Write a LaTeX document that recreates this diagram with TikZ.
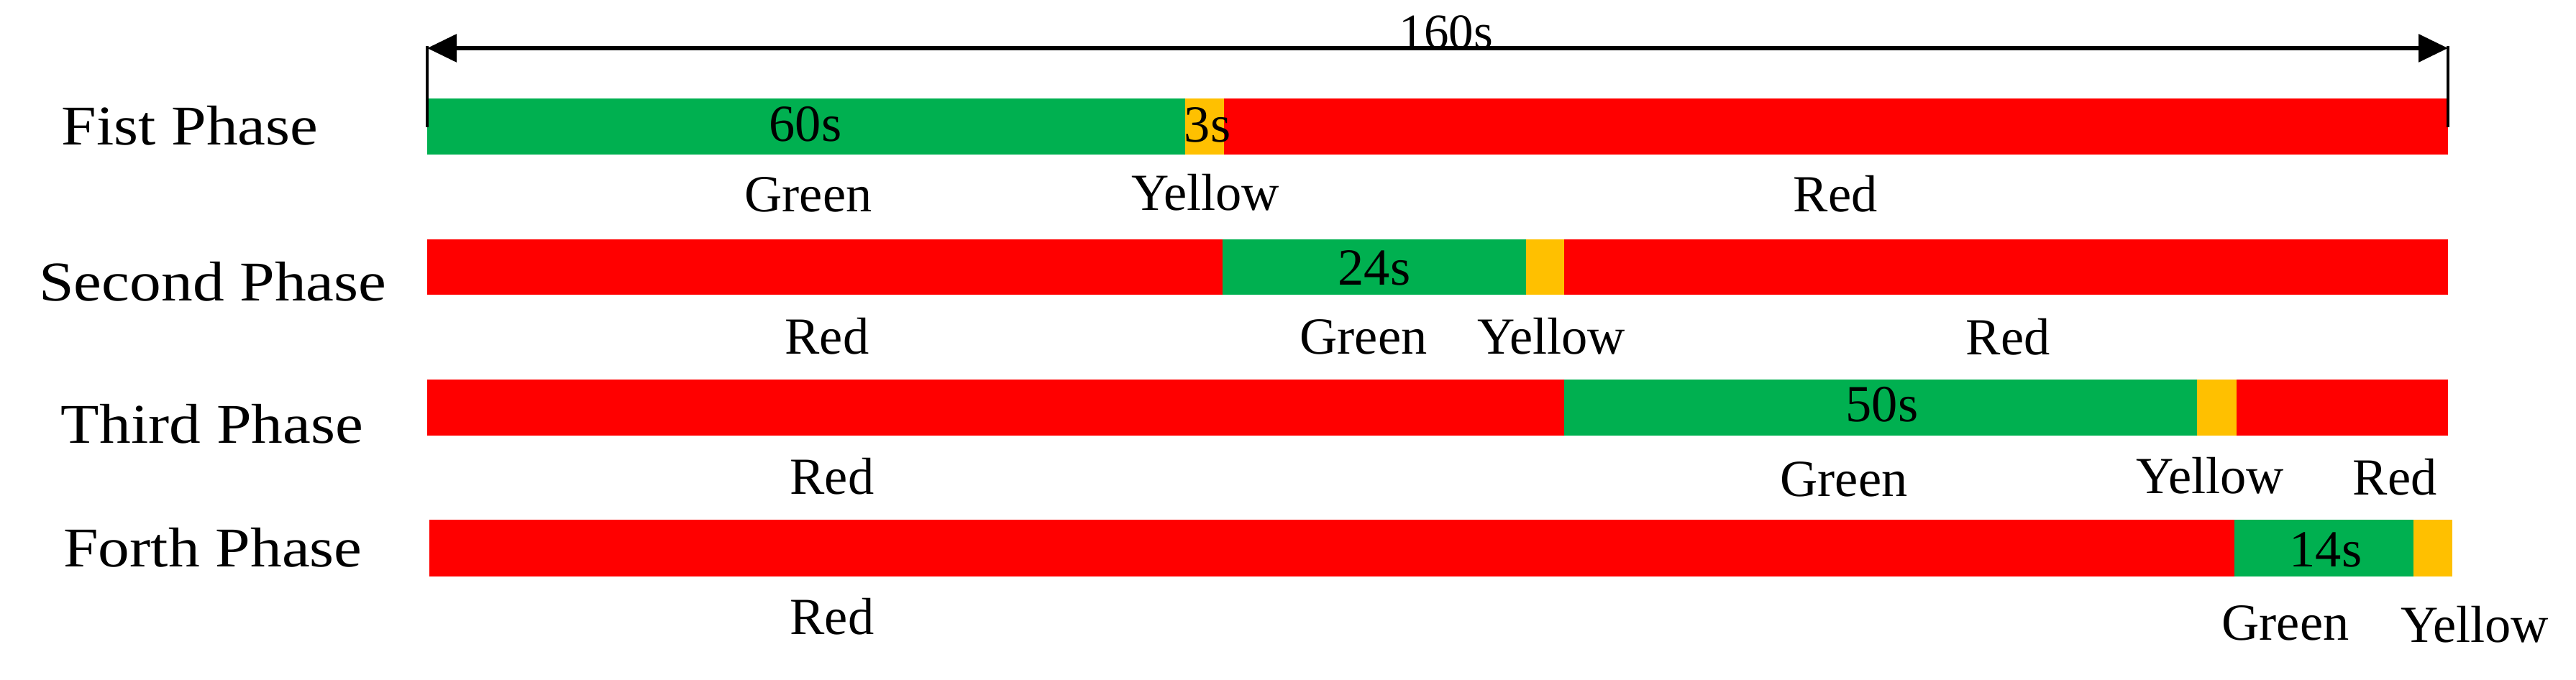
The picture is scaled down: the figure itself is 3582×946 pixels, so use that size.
\documentclass[tikz,border=0pt]{standalone}
\usepackage{fontspec}
\setmainfont{Liberation Serif}
\newfontfamily\phasefont[FakeStretch=1.12]{Liberation Serif}
\usetikzlibrary{arrows.meta}
\definecolor{sgreen}{HTML}{00B050}
\definecolor{syellow}{HTML}{FFC000}
\definecolor{sred}{HTML}{FF0000}
\tikzset{
  lbl/.style={anchor=base, inner sep=0pt, font=\fontsize{20.6pt}{24pt}\selectfont},
  num/.style={anchor=base, inner sep=0pt, font=\fontsize{20.6pt}{24pt}\selectfont},
  phase/.style={anchor=base, inner sep=0pt, font=\phasefont\fontsize{22.2pt}{26pt}\selectfont},
  tick/.style={line width=0.045cm},
  dimline/.style={line width=0.06cm, {Triangle[length=0.41cm,width=0.38cm]}-{Triangle[length=0.41cm,width=0.38cm]}}
}
\begin{document}
\begin{tikzpicture}[x=0.01cm,y=-0.01cm]
\useasboundingbox (0,0) rectangle (3582,946);
% Row 1
\fill[sgreen]  (594,137) rectangle (1648,215);
\fill[syellow] (1648,137) rectangle (1702,215);
\fill[sred]    (1702,137) rectangle (3404,215);
% Row 2
\fill[sred]    (594,333) rectangle (1700,410);
\fill[sgreen]  (1700,333) rectangle (2122,410);
\fill[syellow] (2122,333) rectangle (2175,410);
\fill[sred]    (2175,333) rectangle (3404,410);
% Row 3
\fill[sred]    (594,528) rectangle (2175,606);
\fill[sgreen]  (2175,528) rectangle (3055,606);
\fill[syellow] (3055,528) rectangle (3110,606);
\fill[sred]    (3110,528) rectangle (3404,606);
% Row 4
\fill[sred]    (597,723) rectangle (3107,802);
\fill[sgreen]  (3107,723) rectangle (3356,802);
\fill[syellow] (3356,723) rectangle (3410,802);
% dimension arrow
\coordinate (L) at (594,67);
\coordinate (R) at (3404,67);
\coordinate (Lb) at (594,177);
\coordinate (Rb) at (3404,177);
\draw[dimline] (L) -- (R);
\draw[tick] ([yshift=0.03cm]L) -- (Lb);
\draw[tick] ([yshift=0.03cm]R) -- (Rb);
\node[num, font=\fontsize{19.6pt}{23pt}\selectfont] (total) at (2011,68) {160s};
% phase labels
\node[phase] (p1) at (264,202) {Fist Phase};
\node[phase] (p2) at (296,419) {Second Phase};
\node[phase] (p3) at (295,616) {Third Phase};
\node[phase] (p4) at (296,788) {Forth Phase};
% durations
\node[num] (d1) at (1120,197) {60s};
\node[num] (d2) at (1679,198) {3s};
\node[num] (d3) at (1911,397) {24s};
\node[num] (d4) at (2617,587) {50s};
\node[num] (d5) at (3234,788) {14s};
% row 1 labels
\node[lbl] (g1) at (1124,295) {Green};
\node[lbl] (y1) at (1676,293) {Yellow};
\node[lbl] (r1) at (2552,295) {Red};
% row 2 labels
\node[lbl] (r2a) at (1150,492) {Red};
\node[lbl] (g2) at (1896,492) {Green};
\node[lbl] (y2) at (2157,492) {Yellow};
\node[lbl] (r2b) at (2792,493) {Red};
% row 3 labels
\node[lbl] (r3a) at (1157,687) {Red};
\node[lbl] (g3) at (2564,690) {Green};
\node[lbl] (y3) at (3073,686) {Yellow};
\node[lbl] (r3b) at (3330,688) {Red};
% row 4 labels
\node[lbl] (r4) at (1157,882) {Red};
\node[lbl] (g4) at (3178,890) {Green};
\node[lbl] (y4) at (3441,893) {Yellow};
\end{tikzpicture}
\end{document}
